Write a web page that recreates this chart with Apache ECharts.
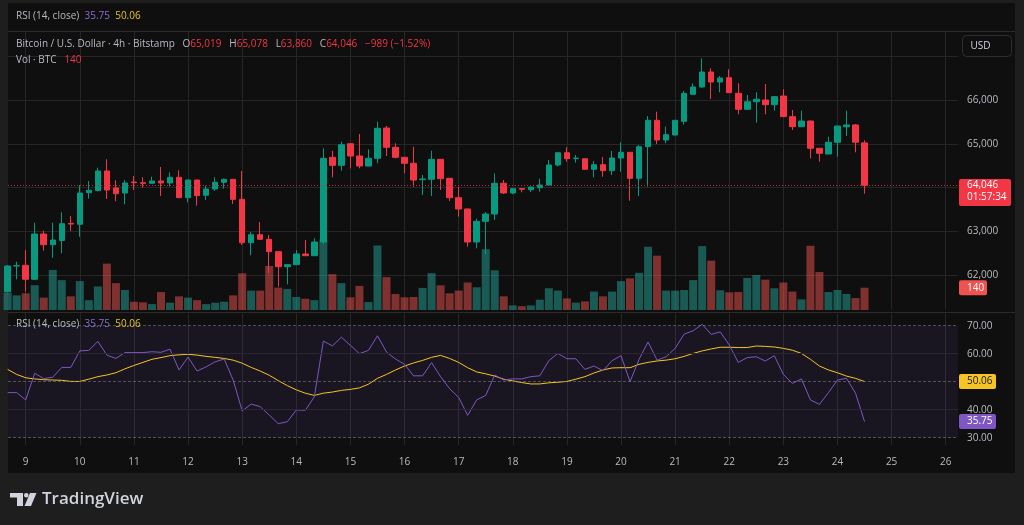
<!DOCTYPE html>
<html>
<head>
<meta charset="utf-8">
<title>BTCUSD 4h - Bitstamp</title>
<script src="https://cdn.jsdelivr.net/npm/echarts@6.0.0/dist/echarts.min.js"></script>
<style>
  html, body { margin: 0; padding: 0; background: #1e1e1e; }
  #main { width: 1024px; height: 525px; }
</style>
</head>
<body>
<div id="main"></div>
<script>
// 4h candles, first one is the 8th 16:00, x axis is in "day of month" units
var firstCandle = 8 + 16 / 24;
var step = 4 / 24;
var dayTicks = [9, 10, 11, 12, 13, 14, 15, 16, 17, 18, 19, 20, 21, 22, 23, 24, 25, 26];
var rsiTicks = [30, 40, 50, 60, 70];
var rsiDashed = [70, 50, 30];
var countdown = '01:57:34';

var opens = [61620, 62206, 62222, 61902, 62937, 62693, 62790, 63180, 63159, 63881,
    63927, 64377, 63989, 63874, 64125, 64110, 64096, 64149, 64103, 64233,
    63767, 64171, 63822, 63966, 64119, 64187, 63730, 62738, 62921, 62816,
    62533, 62190, 62236, 62480, 62441, 62754, 64690, 64507, 65001, 64720,
    64491, 64667, 65360, 64919, 64690, 64553, 64180, 64187, 64644, 64210,
    63767, 63509, 62754, 63227, 63394, 64096, 63874, 63975, 63950, 63995,
    64057, 64514, 64795, 64660, 64658, 64416, 64521, 64384, 64674, 64805,
    64210, 64933, 65536, 65086, 65200, 65513, 66130, 66297, 66640, 66411,
    66510, 66153, 65787, 65961, 66000, 65893, 66091, 65619, 65390, 65520,
    64896, 64766, 65033, 65390, 65430, 65019];
var highs = [62230, 62304, 62571, 63195, 63013, 63195, 63433, 63349, 64057, 64149,
    64453, 64645, 64165, 64171, 64263, 64233, 64247, 64469, 64347, 64393,
    64175, 64180, 64041, 64233, 64201, 64190, 64377, 62983, 63211, 62914,
    62540, 62251, 62571, 62800, 62839, 64896, 64841, 65047, 65010, 65223,
    64873, 65504, 65406, 65010, 64695, 64933, 64286, 64841, 64650, 64215,
    64018, 63515, 63287, 63440, 64325, 64171, 63980, 63975, 64015, 64201,
    64629, 64800, 64919, 64743, 64665, 64606, 64697, 64834, 65033, 64810,
    64971, 65634, 65733, 65390, 65540, 66206, 66381, 66950, 66725, 66549,
    66702, 66381, 66114, 66176, 66366, 66091, 66244, 65771, 65756, 65525,
    64900, 65161, 65410, 65756, 65450, 65078];
var lows = [61600, 61902, 61620, 61890, 62556, 62395, 62496, 63006, 62875, 63744,
    63920, 63737, 63685, 63616, 63943, 63995, 64090, 63806, 64027, 63760,
    63662, 63584, 63714, 63927, 63973, 63623, 62686, 62450, 62800, 62039,
    61733, 61787, 62230, 62438, 62438, 62709, 64233, 64384, 64439, 64439,
    64485, 64553, 64720, 64667, 64324, 64018, 63829, 63806, 63943, 63691,
    63333, 62647, 62610, 62473, 63257, 63851, 63850, 63890, 63897, 63904,
    64050, 64484, 64590, 64567, 64400, 64233, 64247, 64286, 64361, 63698,
    63806, 64018, 64994, 65010, 65195, 65436, 66125, 66280, 66023, 66176,
    66160, 65673, 65780, 65481, 65673, 65756, 65615, 65314, 65385, 64667,
    64590, 64760, 64704, 65177, 64805, 63860];
var closes = [62206, 62215, 61902, 62937, 62693, 62800, 63173, 63165, 63874, 63936,
    64377, 63943, 63858, 64103, 64110, 64095, 64149, 64103, 64233, 63767,
    64171, 63813, 63966, 64119, 64187, 63730, 62738, 62921, 62816, 62533,
    62190, 62236, 62480, 62441, 62754, 64667, 64507, 64978, 64720, 64491,
    64667, 65353, 64919, 64690, 64553, 64171, 64195, 64644, 64201, 63767,
    63509, 62754, 63227, 63394, 64096, 63874, 63973, 63960, 64011, 64057,
    64514, 64795, 64658, 64672, 64416, 64521, 64384, 64674, 64805, 64210,
    64933, 65536, 65086, 65207, 65536, 66153, 66297, 66640, 66411, 66503,
    66167, 65787, 65961, 66016, 65893, 66076, 65619, 65390, 65520, 64896,
    64781, 65033, 65406, 65430, 65035, 64046];
var volumes = [110, 92, 105, 156, 78, 252, 188, 86, 182, 62,
    148, 292, 169, 126, 52, 48, 37, 113, 46, 86,
    78, 62, 37, 46, 52, 92, 231, 122, 122, 277,
    141, 132, 82, 71, 62, 443, 226, 169, 80, 152,
    50, 406, 207, 101, 80, 82, 139, 232, 155, 105,
    122, 173, 143, 383, 250, 86, 29, 24, 29, 65,
    137, 122, 73, 46, 54, 116, 86, 116, 182, 199,
    234, 398, 342, 122, 122, 126, 188, 402, 311, 124,
    111, 113, 202, 220, 191, 137, 173, 116, 67, 404,
    239, 113, 126, 101, 75, 140];
var rsi = [46.1, 46.1, 43.5, 53.0, 51.1, 51.6, 55.1, 55.1, 61.0, 61.2,
    64.4, 59.5, 58.3, 60.4, 60.4, 60.4, 60.7, 60.5, 61.6, 54.2,
    58.8, 53.8, 55.3, 57.1, 58.1, 50.6, 39.6, 42.0, 41.1, 38.1,
    35.0, 35.7, 39.9, 39.8, 44.6, 64.5, 62.8, 65.9, 63.0, 60.0,
    61.2, 66.4, 60.6, 58.1, 56.2, 52.1, 52.1, 56.8, 51.8, 47.5,
    44.4, 38.0, 43.5, 45.1, 52.4, 50.6, 51.0, 51.0, 51.8, 52.1,
    57.5, 60.1, 58.2, 58.2, 54.4, 55.6, 53.9, 57.5, 59.3, 50.0,
    58.0, 64.2, 57.7, 58.9, 61.9, 67.0, 68.2, 70.5, 66.9, 67.8,
    63.1, 56.9, 58.6, 58.9, 57.4, 59.3, 52.6, 49.4, 51.0, 43.5,
    41.9, 46.1, 50.6, 51.2, 45.9, 35.75];
var rsiMa = [54.4, 52.6, 51.4, 51.0, 50.7, 50.6, 50.5, 50.1, 50.1, 50.9,
    51.8, 52.4, 53.2, 54.6, 55.8, 56.9, 58.0, 58.6, 59.3, 59.6,
    59.8, 59.5, 59.05, 58.7, 58.3, 57.7, 56.6, 55.1, 53.8, 52.3,
    50.4, 48.6, 47.1, 45.9, 45.1, 45.9, 46.3, 46.9, 47.25, 47.8,
    49.1, 51.2, 52.6, 54.2, 55.6, 56.7, 57.6, 58.7, 59.4, 58.3,
    56.9, 55.0, 53.5, 52.8, 52.0, 50.9, 50.3, 49.7, 49.2, 49.2,
    49.6, 49.8, 50.1, 50.9, 51.8, 53.1, 54.2, 54.9, 55.0, 55.0,
    56.2, 56.9, 57.4, 57.7, 58.2, 59.05, 60.1, 61.0, 61.7, 62.3,
    62.3, 62.2, 62.2, 62.75, 62.6, 62.4, 61.9, 61.25, 60.1, 58.0,
    55.6, 54.2, 53.2, 52.0, 51.2, 50.06];

var FONT = '"Open Sans", sans-serif';
var up = '#089981', down = '#f23645';
var textGray = '#b8bbc3';
var gridColor = '#262626';
var rsiColor = '#7e57c2', maColor = '#f7c325';

var candleX = opens.map((_, i) => firstCandle + i * step);
var candleData = candleX.map((x, i) => [x, opens[i], closes[i], lows[i], highs[i]]);
var volData = candleX.map((x, i) => ({
    value: [x, volumes[i]],
    itemStyle: { color: closes[i] >= opens[i] ? 'rgba(38,166,154,0.5)' : 'rgba(239,83,80,0.5)' }
}));
var rsiData = candleX.map((x, i) => [x, rsi[i]]);
var maData = candleX.map((x, i) => [x, rsiMa[i]]);

var xMin = 8.673, xMax = 26.227;
function xAxisFor(idx, showLines, showLabels) {
    return {
        type: 'value', gridIndex: idx, min: xMin, max: xMax,
        axisLine: { show: false },
        axisTick: { show: false, customValues: dayTicks },
        axisLabel: {
            show: showLabels, customValues: dayTicks, margin: 12,
            color: textGray, fontSize: 10, fontFamily: FONT,
            formatter: v => String(Math.round(v))
        },
        splitLine: { show: showLines, lineStyle: { color: gridColor, width: 1 } }
    };
}

var chart = echarts.init(document.getElementById('main'), null, { renderer: 'canvas' });

var option = {
    backgroundColor: '#1e1e1e',
    animation: false,
    grid: [
        { left: 8, top: 56.25, width: 950, height: 262.5 },  // price
        { left: 8, top: 32, width: 950, height: 278 },        // volume overlay
        { left: 8, top: 313, width: 950, height: 132 }        // rsi
    ],
    xAxis: [xAxisFor(0, false, false), xAxisFor(1, true, false), xAxisFor(2, true, true)],
    yAxis: [
        {
            type: 'value', gridIndex: 0, position: 'right', min: 61000, max: 67000, interval: 1000,
            axisLine: { show: false }, axisTick: { show: false },
            axisLabel: {
                color: textGray, fontSize: 10, fontFamily: FONT, margin: 9,
                showMinLabel: false, showMaxLabel: false,
                formatter: v => v.toLocaleString('en-US')
            },
            splitLine: { lineStyle: { color: gridColor }, showMinLine: false }
        },
        { type: 'value', gridIndex: 1, min: 0, max: 1750, show: false },
        {
            type: 'value', gridIndex: 2, position: 'right', min: 27.393, max: 74.536,
            axisLine: { show: false },
            axisTick: { show: false, customValues: rsiTicks },
            axisLabel: {
                customValues: rsiTicks, color: textGray, fontSize: 10, fontFamily: FONT, margin: 9,
                formatter: v => v.toFixed(2)
            },
            splitLine: { show: false }
        }
    ],
    series: [
        {
            name: 'Volume', type: 'bar', xAxisIndex: 1, yAxisIndex: 1,
            barWidth: 8, data: volData, z: 1
        },
        {
            name: 'BTCUSD', type: 'candlestick', xAxisIndex: 0, yAxisIndex: 0,
            barWidth: 6, data: candleData, encode: { x: 0, y: [1, 2, 3, 4] }, z: 3,
            itemStyle: { color: up, color0: down, borderColor: up, borderColor0: down, borderWidth: 1 }
        },
        {
            name: 'RSI', type: 'line', xAxisIndex: 2, yAxisIndex: 2,
            data: rsiData, symbol: 'none', z: 4,
            lineStyle: { color: rsiColor, width: 1 },
            markArea: {
                silent: true,
                itemStyle: { color: 'rgba(126,87,194,0.1)' },
                data: [[{ yAxis: rsiTicks[rsiTicks.length - 1] }, { yAxis: rsiTicks[0] }]]
            },
            markLine: {
                silent: true, symbol: 'none', label: { show: false },
                data: rsiTicks.map(v => ({
                    yAxis: v,
                    lineStyle: rsiDashed.indexOf(v) >= 0
                        ? { color: 'rgba(120,123,134,0.6)', type: [3, 2], width: 1 }
                        : { color: '#2a2733', type: 'solid', width: 1 }
                }))
            }
        },
        {
            name: 'RSI MA', type: 'line', xAxisIndex: 2, yAxisIndex: 2,
            data: maData, symbol: 'none', z: 3,
            lineStyle: { color: maColor, width: 1 }
        }
    ]
};
chart.setOption(option);

// --- legends, labels and boxes drawn on top ---
var n = closes.length;
var lastO = opens[n - 1], lastH = highs[n - 1], lastL = lows[n - 1], lastC = closes[n - 1];
var chg = lastC - closes[n - 2];
var pct = chg / closes[n - 2] * 100;
var fmt = v => v.toLocaleString('en-US');
var signed = (v, d) => (v < 0 ? '\u2212' : '+') + Math.abs(v).toFixed(d);

var priceY = chart.convertToPixel({ yAxisIndex: 0 }, lastC);
var volY = chart.convertToPixel({ yAxisIndex: 1 }, volumes[n - 1]);
var rsiY = chart.convertToPixel({ yAxisIndex: 2 }, rsi[n - 1]);
var maY = chart.convertToPixel({ yAxisIndex: 2 }, rsiMa[n - 1]);
var lineY = Math.round(priceY) + 0.5;

function txt(x, y, text, color, font) {
    return {
        type: 'text', x: x, y: y, z: 100,
        style: { text: text, fill: color, font: font || ('10px ' + FONT), verticalAlign: 'middle', align: 'left' }
    };
}
function richTxt(x, y, text, rich) {
    return {
        type: 'text', x: x, y: y, z: 100,
        style: { text: text, rich: rich, font: '10px ' + FONT, verticalAlign: 'middle', align: 'left' }
    };
}
function box(y, w, color, label, labelColor) {
    return [
        { type: 'rect', z: 100, shape: { x: 959, y: y - 7.5, width: w, height: 15, r: 2 }, style: { fill: color } },
        txt(967, y, label, labelColor)
    ];
}

var rich = {
    g: { fill: textGray, fontSize: 10, fontFamily: FONT },
    r: { fill: down, fontSize: 10, fontFamily: FONT },
    p: { fill: '#8c6bd6', fontSize: 10, fontFamily: FONT },
    y: { fill: '#e6c229', fontSize: 10, fontFamily: FONT }
};
var rsiLegend = '{g|RSI (14, close)}  {p|' + rsi[n - 1].toFixed(2) + '}  {y|' + rsiMa[n - 1].toFixed(2) + '}';
var priceLegend = '{g|Bitcoin / U.S. Dollar \u00b7 4h \u00b7 Bitstamp}   {g|O}{r|' + fmt(lastO) + '}   {g|H}{r|' + fmt(lastH) +
    '}   {g|L}{r|' + fmt(lastL) + '}   {g|C}{r|' + fmt(lastC) + '}   {r|' + signed(chg, 0) + ' (' + signed(pct, 2) + '%)}';
var volLegend = '{g|Vol \u00b7 BTC}   {r|' + volumes[n - 1] + '}';

var graphics = [
    // panel
    { type: 'rect', z: -1, shape: { x: 8, y: 3, width: 1007, height: 470 }, style: { fill: '#0f0f0f' } },
    { type: 'line', z: 1, shape: { x1: 8, y1: 31.5, x2: 1015, y2: 31.5 }, style: { stroke: '#2b2b2b', lineWidth: 1 } },
    { type: 'line', z: 1, shape: { x1: 8, y1: 312.5, x2: 1015, y2: 312.5 }, style: { stroke: '#2b2b2b', lineWidth: 1 } },
    // last price dotted line
    { type: 'line', z: 5, silent: true, shape: { x1: 8, y1: lineY, x2: 958, y2: lineY },
      style: { stroke: '#c42a3a', lineWidth: 1, lineDash: [1, 2] } },
    richTxt(16, 16, rsiLegend, rich),
    richTxt(16, 44.5, priceLegend, rich),
    richTxt(16, 60, volLegend, rich),
    richTxt(16, 324, rsiLegend, rich),
    // USD button
    { type: 'rect', z: 100, shape: { x: 962.5, y: 35.5, width: 49, height: 21, r: 4 }, style: { fill: '#0f0f0f', stroke: '#2e2e2e', lineWidth: 1 } },
    txt(970.5, 46, 'USD', '#d1d4dc'),
    // last price box
    { type: 'rect', z: 100, shape: { x: 959, y: priceY - 6.5, width: 52, height: 27, r: 2 }, style: { fill: down } },
    txt(967, priceY, fmt(lastC), '#ffffff'),
    txt(967, priceY + 12, countdown, '#ffffff'),
    // TradingView logo
    { type: 'rect', z: 100, shape: { x: 10, y: 493, width: 13, height: 4.5 }, style: { fill: '#d1d4dc' } },
    { type: 'rect', z: 100, shape: { x: 17, y: 493, width: 6, height: 13 }, style: { fill: '#d1d4dc' } },
    { type: 'circle', z: 100, shape: { cx: 26.3, cy: 495.3, r: 2.3 }, style: { fill: '#d1d4dc' } },
    { type: 'polygon', z: 100, shape: { points: [[30, 493], [36.5, 493], [31, 506], [24.5, 506]] }, style: { fill: '#d1d4dc' } },
    txt(42, 499.5, 'TradingView', '#d1d4dc', '600 17px ' + FONT)
];
graphics = graphics
    .concat(box(volY, 28, '#ef5350', String(volumes[n - 1]), '#ffffff'))
    .concat(box(maY, 37, maColor, rsiMa[n - 1].toFixed(2), '#131722'))
    .concat(box(rsiY, 37, rsiColor, rsi[n - 1].toFixed(2), '#ffffff'));

chart.setOption({ graphic: graphics });
</script>
</body>
</html>
